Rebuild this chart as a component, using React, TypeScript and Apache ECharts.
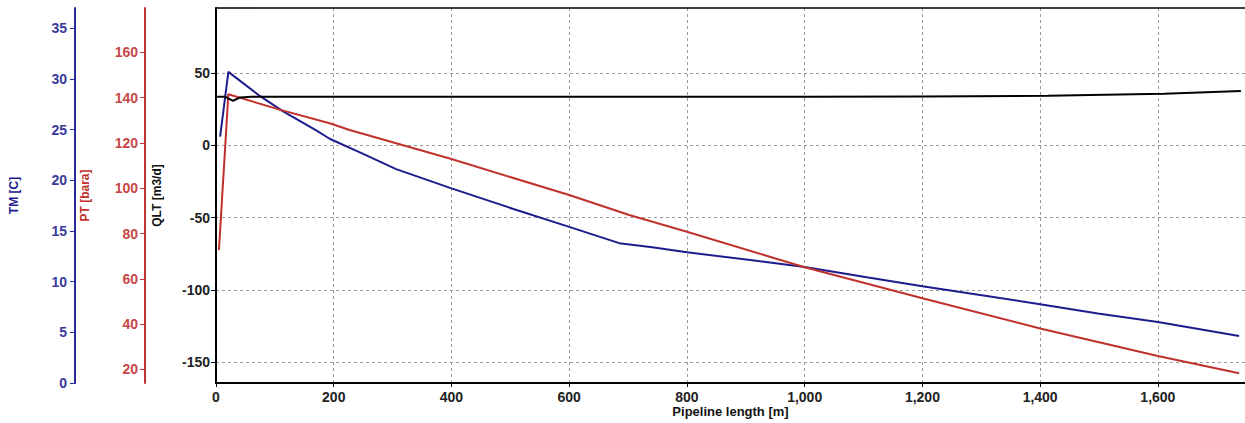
import { useEffect, useRef } from "react";
import * as echarts from "echarts";

// Pipeline length [m] sample positions and values for each profile
const distTM = [7, 21, 75, 114, 171, 193, 250, 306, 400, 504, 600, 685, 741, 800, 911, 1000, 1108, 1200, 1400, 1498, 1600, 1738];
const tmValues = [24.3, 30.7, 28.3, 26.8, 24.9, 24.1, 22.6, 21.1, 19.2, 17.2, 15.4, 13.8, 13.4, 12.9, 12.1, 11.45, 10.4, 9.55, 7.77, 6.85, 6.02, 4.64];

const distPT = [5, 21, 111, 193, 227, 400, 600, 702, 800, 1000, 1200, 1400, 1600, 1738];
const ptValues = [72.7, 141.5, 134.5, 128.7, 125.7, 112.9, 97.0, 88.2, 80.8, 65.1, 51.4, 38.1, 25.9, 18.3];

const distQLT = [2, 16, 29, 41, 60, 1000, 1200, 1413, 1535, 1611, 1741];
const qltValues = [33.5, 33.5, 30.8, 33.1, 33.5, 33.5, 33.8, 34.2, 35.2, 35.7, 37.5];

// Tick labels
const xTicks = [0, 200, 400, 600, 800, 1000, 1200, 1400, 1600];
const qltTicks = [-150, -100, -50, 0, 50];
const tmTicks = [0, 5, 10, 15, 20, 25, 30, 35];
const ptTicks = [20, 40, 60, 80, 100, 120, 140, 160];

const FONT = '"Liberation Sans", Arial, sans-serif';
const NARROW = '"Liberation Sans Narrow", "Arial Narrow", "Liberation Sans", sans-serif';
const BLUE = "#1c1c8c";
const RED = "#c0302c";

const zip = (xs: number[], ys: number[]) => xs.map((x, i) => [x, ys[i]]);

const tickLabel = (color: string, margin: number) => ({
  margin,
  color,
  fontSize: 14,
  lineHeight: 14,
  fontWeight: "bold" as const,
  fontFamily: NARROW,
});

export default function App() {
  const ref = useRef<HTMLDivElement>(null);
  useEffect(() => {
    const chart = echarts.init(ref.current!, null, { renderer: "svg" });
    const grid = { color: "#9a9a9a", type: [3, 3] as number[], width: 1 };
    chart.setOption({
      animation: false,
      textStyle: { fontFamily: FONT },
      grid: { left: 216, right: 0, top: 8, bottom: 40, containLabel: false, outerBoundsMode: "none" },
      xAxis: [
        {
          type: "value",
          min: 0,
          max: 1748,
          position: "bottom",
          name: "Pipeline length [m]",
          nameLocation: "middle",
          nameGap: 22,
          nameMoveOverlap: false,
          nameTextStyle: { color: "#111", fontSize: 13, lineHeight: 13, fontWeight: "bold", fontFamily: NARROW },
          axisLine: { onZero: false, lineStyle: { color: "#000", width: 2 } },
          axisTick: { show: true, length: 4, customValues: xTicks, lineStyle: { color: "#000" } },
          axisLabel: {
            customValues: xTicks,
            ...tickLabel("#222", 7),
            formatter: (v: number) => v.toLocaleString("en-US"),
          },
          splitLine: { show: true, lineStyle: grid },
        },
        {
          type: "value",
          min: 0,
          max: 1748,
          position: "top",
          axisLine: { onZero: false, lineStyle: { color: "#000", width: 1.5 } },
          axisTick: { show: false },
          axisLabel: { show: false },
          splitLine: { show: false },
        },
      ],
      yAxis: [
        {
          type: "value",
          min: -164.5,
          max: 95,
          position: "left",
          offset: 0,
          name: "QLT [m3/d]",
          nameLocation: "middle",
          nameGap: 53,
          nameMoveOverlap: false,
          nameTextStyle: { color: "#111", fontSize: 12, fontWeight: "bold", fontFamily: FONT },
          axisLine: { show: true, onZero: false, lineStyle: { color: "#000", width: 2 } },
          axisTick: { show: true, length: 5, customValues: qltTicks, lineStyle: { color: "#000" } },
          axisLabel: { customValues: qltTicks, ...tickLabel("#222", 6) },
          splitLine: { show: true, lineStyle: grid },
        },
        {
          type: "value",
          min: 0,
          max: 37,
          position: "left",
          offset: 141,
          name: "TM [C]",
          nameLocation: "middle",
          nameGap: 55,
          nameMoveOverlap: false,
          nameTextStyle: { color: BLUE, fontSize: 12, fontWeight: "bold", fontFamily: FONT },
          axisLine: { show: true, onZero: false, lineStyle: { color: "#2a2a96", width: 2 } },
          axisTick: { show: true, length: 5, customValues: tmTicks, lineStyle: { color: "#2a2a96" } },
          axisLabel: { customValues: tmTicks, ...tickLabel("#3a3a9c", 8) },
          splitLine: { show: false },
        },
        {
          type: "value",
          min: 14,
          max: 179.6,
          position: "left",
          offset: 71,
          name: "PT [bara]",
          nameLocation: "middle",
          nameGap: 54,
          nameMoveOverlap: false,
          nameTextStyle: { color: RED, fontSize: 12, fontWeight: "bold", fontFamily: FONT },
          axisLine: { show: true, onZero: false, lineStyle: { color: "#c43434", width: 2 } },
          axisTick: { show: true, length: 5, customValues: ptTicks, lineStyle: { color: "#c43434" } },
          axisLabel: { customValues: ptTicks, ...tickLabel("#c84646", 7) },
          splitLine: { show: false },
        },
      ],
      series: [
        {
          name: "TM",
          type: "line",
          xAxisIndex: 0,
          yAxisIndex: 1,
          showSymbol: false,
          lineStyle: { color: BLUE, width: 2 },
          itemStyle: { color: BLUE },
          data: zip(distTM, tmValues),
        },
        {
          name: "PT",
          type: "line",
          xAxisIndex: 0,
          yAxisIndex: 2,
          showSymbol: false,
          lineStyle: { color: RED, width: 2 },
          itemStyle: { color: RED },
          data: zip(distPT, ptValues),
        },
        {
          name: "QLT",
          type: "line",
          xAxisIndex: 0,
          yAxisIndex: 0,
          showSymbol: false,
          lineStyle: { color: "#000", width: 2 },
          itemStyle: { color: "#000" },
          data: zip(distQLT, qltValues),
        },
      ],
    });
    return () => chart.dispose();
  }, []);
  return (
    <div
      ref={ref}
      style={{ position: "fixed", left: 0, top: 0, width: 1245, height: 423, background: "#fff" }}
    />
  );
}
